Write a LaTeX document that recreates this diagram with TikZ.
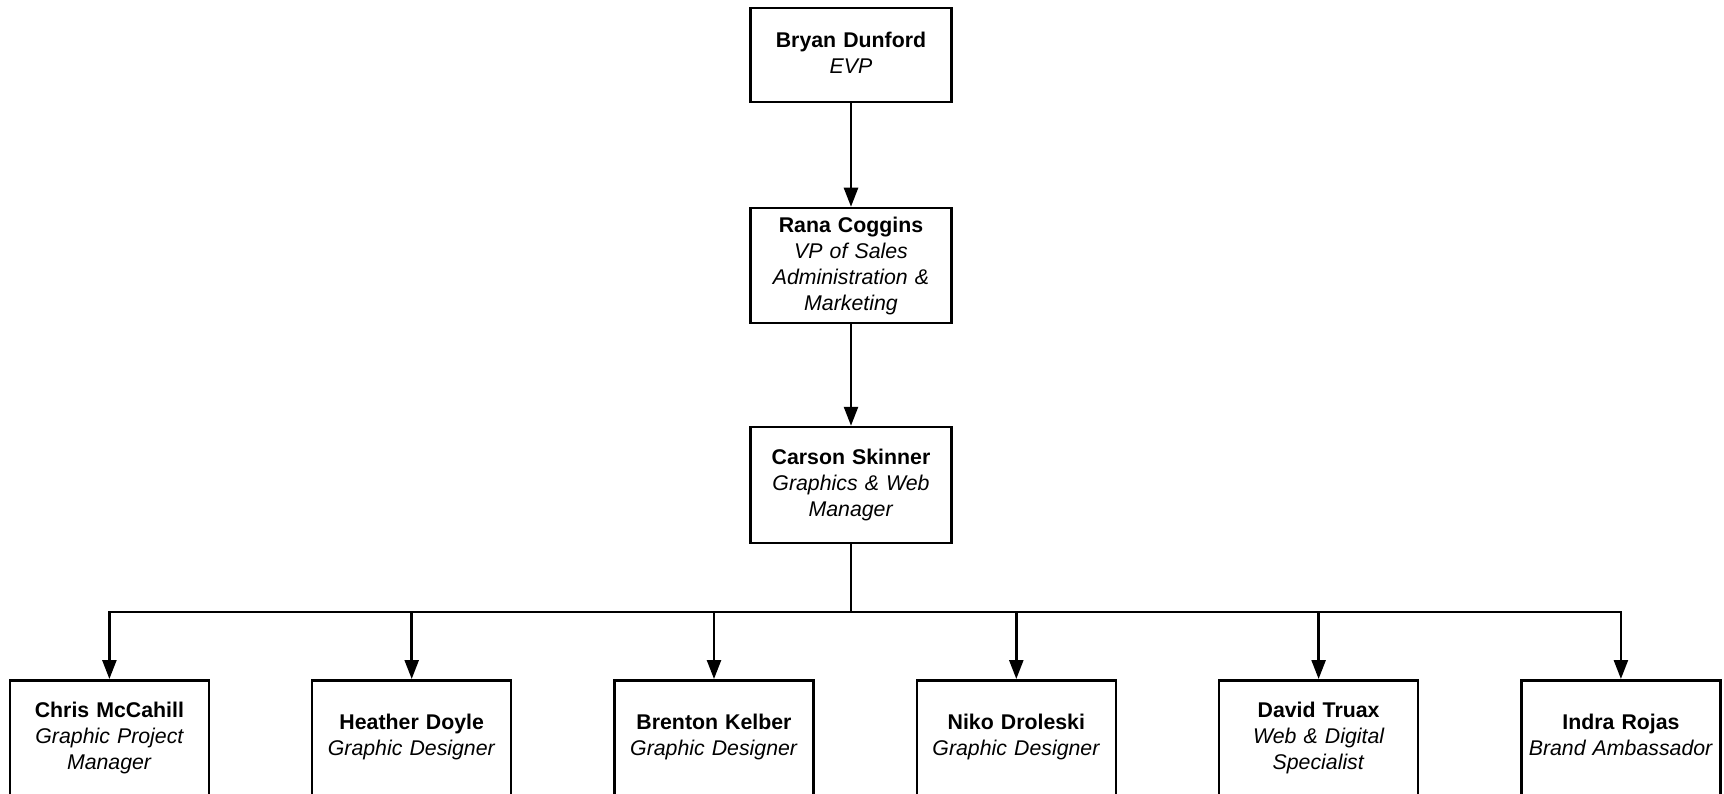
\documentclass[tikz,border=0pt]{standalone}
\usepackage{fontspec}
\setmainfont{Liberation Sans}
\usetikzlibrary{arrows.meta,positioning}

\newcommand{\person}[2]{\textbf{#1}\\\textit{#2}}
\newcommand{\lowgap}[1]{\par\vspace{#1}\hrule height 0pt\relax}

\begin{document}
\begin{tikzpicture}[x=1pt,y=-1pt,>={Triangle[length=19pt,width=14pt]},line width=2.5pt,
  every node/.style={font=\fontsize{21.3}{26}\selectfont},
  post/.style={draw,text width=192pt,align=center,inner sep=0pt,minimum width=201pt},
  staff/.style={post,anchor=north,minimum width=199pt,minimum height=130pt}]

                \useasboundingbox (0,0) rectangle (1724,794);

                \node[post,minimum height=94pt] (bryan) at (851,55) {\person{Bryan Dunford}{EVP}\lowgap{4.4pt}};

                \node[post,minimum height=115pt] (rana) [below=103.5pt of bryan] {\person{Rana Coggins}{VP of Sales\\Administration \&\\Marketing}};

                \node[post,minimum height=116pt] (carson) [below=101.5pt of rana] {\person{Carson Skinner}{Graphics \& Web\\Manager}\lowgap{1pt}};

                

                \node[staff] (chris) at (109.4,679) {\person{Chris McCahill}{Graphic Project\\Manager}\lowgap{15pt}};

                \node[staff] (heather) [right=100.8pt of chris] {\person{Heather Doyle}{Graphic Designer}\lowgap{16pt}};

                \node[staff] (brenton) [right=100.8pt of heather] {\person{Brenton Kelber}{Graphic Designer}\lowgap{16pt}};

                \node[staff] (niko) [right=100.8pt of brenton] {\person{Niko Droleski}{Graphic Designer}\lowgap{16pt}};

                \node[staff] (david) [right=100.8pt of niko] {\person{David Truax}{Web \& Digital\\Specialist}\lowgap{15pt}};

                \node[staff] (indra) [right=100.8pt of david] {\person{Indra Rojas}{Brand Ambassador}\lowgap{20pt}};

                

                \coordinate (busy) at (0,612);

                \coordinate (bus) at (carson.south |- busy);

                \path[->] (bryan) edge (rana);

                \path[->] (rana) edge (carson);

                \draw (carson.south) -- (bus);

                \foreach \to in {chris, heather, brenton, niko, david, indra}
                    {
                    \draw[->] (bus) -| (\to.north);
                    }

            \end{tikzpicture}
\end{document}
